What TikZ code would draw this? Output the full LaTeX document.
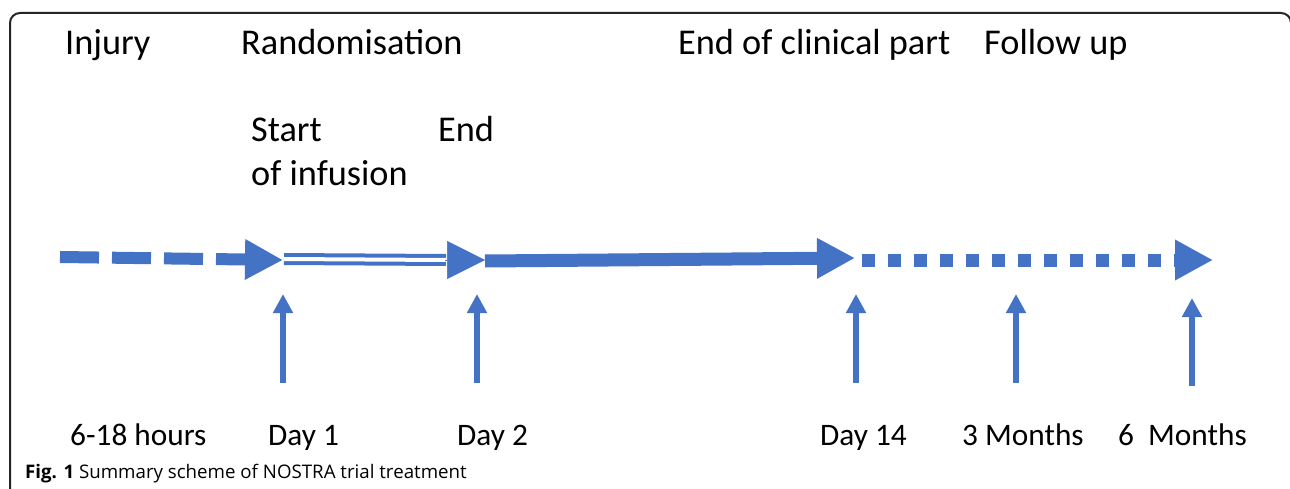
\documentclass[tikz,border=0pt]{standalone}
\usepackage{fontspec}
\setmainfont{Carlito}
\newfontfamily\capfont{Open Sans}
\usetikzlibrary{arrows.meta}
\definecolor{obl}{HTML}{4472C4}
\begin{document}
\begin{tikzpicture}[x=1pt,y=-1pt,
  lbl/.style={anchor=base west, inner sep=0pt, font=\fontsize{36.3}{42}\selectfont},
  blbl/.style={anchor=base west, inner sep=0pt, font=\fontsize{31.3}{38}\selectfont},
  bigtip/.style={-{Triangle[length=38pt,width=38pt]}},
  uparrow/.style={draw=obl, line width=6pt, -{Triangle[length=19pt,width=19pt]}},
  every path/.style={line cap=butt}]
\useasboundingbox (0,0) rectangle (1290,489);
\fill[white] (0,0) rectangle (1290,489);
% frame
\coordinate (f1) at (10,495);
\coordinate (f2) at (10,13);
\coordinate (f3) at (1291,13);
\coordinate (f4) at (1291,495);
\draw[line width=2pt, rounded corners=10pt, color=black!85] (f1) -- (f2) -- (f3) -- (f4);
% top labels
\node[lbl] (injury) at (65,55) {Injury};
\node[lbl] (rand) at (241,55) {Randomisation};
\node[lbl] (endcl) at (678,55) {End of clinical part};
\node[lbl] (fup) at (984,55) {Follow up};
\node[lbl] (start) at (251,142) {Start};
\node[lbl] (ofinf) at (251,186) {of infusion};
\node[lbl] (endinf) at (438,142) {End};
% bottom labels
\node[blbl] (h618) at (70,445) {6-18 hours};
\node[blbl] (d1) at (268,445) {Day 1};
\node[blbl] (d2) at (457,445) {Day 2};
\node[blbl] (d14) at (820,445) {Day 14};
\node[blbl] (m3) at (962,445) {3 Months};
\node[blbl] (m6) at (1118,445) {6\ \ Months};
\node[anchor=base west, inner sep=0pt, font=\capfont\fontsize{18.7}{23}\selectfont] (cap) at (25,478) {\textbf{Fig. 1} Summary scheme of NOSTRA trial treatment};
% timeline
\coordinate (s0) at (60,257);
\coordinate (t1) at (283,260);
\coordinate (s1) at (284,259);
\coordinate (b2) at (446,260);
\coordinate (t2) at (485,260);
\coordinate (s2) at (485,261);
\coordinate (t3) at (855,258);
\coordinate (s3) at (862,260);
\coordinate (t4) at (1213,260);
\draw[obl, line width=12pt, dash pattern=on 39pt off 13pt, bigtip] (s0) -- (t1);
\draw[obl, line width=4pt, double=white, double distance=4pt] (s1) -- (b2);
\draw[obl, line width=0.5pt, bigtip] ([xshift=-1pt]b2) -- (t2);
\draw[obl, line width=13pt, bigtip] (s2) -- (t3);
\draw[obl, line width=13pt, dash pattern=on 13pt off 13pt, bigtip] (s3) -- (t4);
% up arrows
\coordinate (u1a) at (283,383); \coordinate (u1b) at (283,294);
\coordinate (u2a) at (477,383); \coordinate (u2b) at (477,294);
\coordinate (u3a) at (856,383); \coordinate (u3b) at (856,294);
\coordinate (u4a) at (1016,383); \coordinate (u4b) at (1016,294);
\coordinate (u5a) at (1192,386); \coordinate (u5b) at (1192,298);
\draw[uparrow] (u1a) -- (u1b);
\draw[uparrow] (u2a) -- (u2b);
\draw[uparrow] (u3a) -- (u3b);
\draw[uparrow] (u4a) -- (u4b);
\draw[uparrow] (u5a) -- (u5b);
\end{tikzpicture}
\end{document}
